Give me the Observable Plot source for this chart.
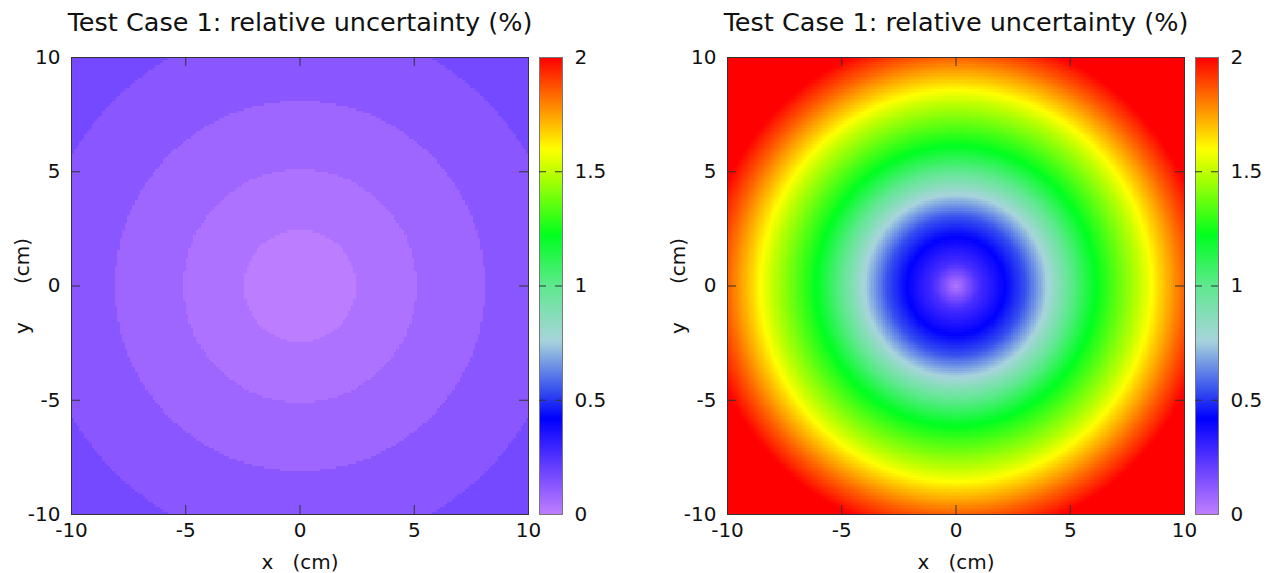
<!DOCTYPE html>
<html>
<head>
<meta charset="utf-8">
<script src="https://cdn.jsdelivr.net/npm/d3@7"></script>
<script src="https://cdn.jsdelivr.net/npm/@observablehq/plot@0.6"></script>
<style>
  html, body { margin: 0; padding: 0; background: #fff; }
  #root { position: relative; width: 1269px; height: 573px; background: #fff; font-family: "DejaVu Sans", sans-serif; }
  #root svg { position: absolute; top: 0; }
</style>
</head>
<body>
<div id="root"></div>
<script>
// ---- data ----
const chartTitle = "Test Case 1: relative uncertainty (%)";
const xLabel = "x\u00a0\u00a0\u00a0(cm)";
const yLabel = "y\u00a0\u00a0\u00a0\u00a0\u00a0\u00a0(cm)";
const axisTicks = [-10, -5, 0, 5, 10];
const innerTicks = [-5, 0, 5];
const colorTicks = [0, 0.5, 1, 1.5, 2];
const barInnerTicks = [0.5, 1, 1.5];
const paletteStops  = [0, 0.15, 0.42, 0.55, 0.76, 1.0, 1.22, 1.5, 1.6, 1.75, 2.0];
const paletteColors = ["#c080ff", "#8050ff", "#0000ff", "#3a55ee", "#a8d4dc", "#60e890", "#00ff20", "#c0ff00", "#ffff00", "#ffa000", "#ff0000"];
// left panel: stepped rings (outer radius in cm, value in %)
const leftRingOuterRadius = [2.45, 5.1, 8.1, 11.5, 15];
const leftRingValue       = [0.01, 0.045, 0.08, 0.13, 0.175];
// right panel: radial profile (radius in cm, value in %)
const rightRadius = [0, 1, 2, 3, 4, 5, 6, 7, 8, 9, 10, 11, 12, 13, 14.2];
const rightValue  = [0.03, 0.27, 0.4, 0.54, 0.76, 1.0, 1.2, 1.35, 1.5, 1.68, 1.85, 2.0, 2.15, 2.3, 2.45];

// ---- fields built from the read profiles ----
function leftField(x, y) {
  const r = Math.hypot(x, y);
  let i = leftRingOuterRadius.findIndex(R => r < R);
  if (i < 0) i = leftRingValue.length - 1;
  return leftRingValue[i];
}
const rightProfile = d3.scaleLinear().domain(rightRadius).range(rightValue);
function rightField(x, y) { return rightProfile(Math.hypot(x, y)); }

const colorScale = { type: "linear", domain: paletteStops, range: paletteColors, clamp: true };
const fmt = d => String(d);
const baseStyle = { fontFamily: "DejaVu Sans", fontSize: "20px", color: "#111", background: "transparent", overflow: "visible" };

function mainPlot(field, grid) {
  return Plot.plot({
    width: 540, height: 573,
    marginLeft: 71, marginRight: 12, marginTop: 57, marginBottom: 59,
    style: baseStyle,
    x: { domain: [-10, 10] },
    y: { domain: [-10, 10] },
    color: colorScale,
    marks: [
      Plot.raster({ fill: field, x1: -10, x2: 10, y1: -10, y2: 10, width: grid, height: grid, imageRendering: "pixelated" }),
      Plot.frame({ stroke: "#333", strokeWidth: 1 }),
      Plot.tickX(innerTicks, { x: d => d, insetTop: 448, stroke: "#333" }),
      Plot.tickX(innerTicks, { x: d => d, insetBottom: 448, stroke: "#333" }),
      Plot.tickY(innerTicks, { y: d => d, insetRight: 448, stroke: "#333" }),
      Plot.tickY(innerTicks, { y: d => d, insetLeft: 448, stroke: "#333" }),
      Plot.axisX({ ticks: axisTicks, tickSize: 0, tickPadding: 8, fontSize: 20, label: null, tickFormat: fmt }),
      Plot.axisY({ ticks: axisTicks, tickSize: 0, tickPadding: 11, fontSize: 20, label: null, tickFormat: fmt }),
      Plot.text([chartTitle], { text: d => d, frameAnchor: "top", lineAnchor: "middle", textAnchor: "middle", dy: -35, fontSize: 25.5, fill: "#111" }),
      Plot.text([xLabel], { text: d => d, frameAnchor: "bottom", lineAnchor: "middle", textAnchor: "middle", dy: 48, fontSize: 20, fill: "#111" }),
      Plot.text([yLabel], { text: d => d, frameAnchor: "left", lineAnchor: "middle", textAnchor: "middle", dx: -49, rotate: -90, fontSize: 20, fill: "#111" })
    ]
  });
}

function colorBar() {
  return Plot.plot({
    width: 80, height: 573,
    marginLeft: 0, marginRight: 57, marginTop: 57, marginBottom: 59,
    style: baseStyle,
    x: { domain: [0, 1], axis: null },
    y: { domain: [0, 2], axis: null },
    color: colorScale,
    marks: [
      Plot.raster({ fill: (x, y) => y, x1: 0, x2: 1, y1: 0, y2: 2, width: 1, height: 200 }),
      Plot.frame({ stroke: "#777" }),
      Plot.tickY(barInnerTicks, { y: d => d, insetRight: 16, stroke: "#333" }),
      Plot.tickY(barInnerTicks, { y: d => d, insetLeft: 16, stroke: "#333" }),
      Plot.axisY({ anchor: "right", ticks: colorTicks, tickSize: 0, tickPadding: 12, fontSize: 20, label: null, tickFormat: fmt })
    ]
  });
}

const root = document.getElementById("root");
function place(svg, left) { svg.style.left = left + "px"; root.appendChild(svg); }
place(mainPlot(leftField, 180), 0);
place(colorBar(), 539);
place(mainPlot(rightField, 200), 656);
place(colorBar(), 1195);
</script>
</body>
</html>
